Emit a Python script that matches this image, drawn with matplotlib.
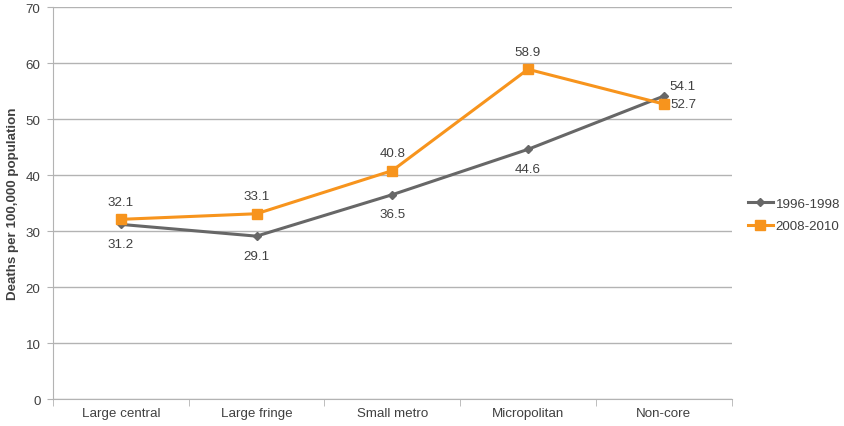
import matplotlib
matplotlib.use("Agg")
import matplotlib.pyplot as plt
import numpy as np

plt.rcParams["font.family"] = ["Liberation Sans", "DejaVu Sans"]

categories = ["Large central", "Large fringe", "Small metro", "Micropolitan", "Non-core"]
deaths_1996 = [31.2, 29.1, 36.5, 44.6, 54.1]
deaths_2008 = [32.1, 33.1, 40.8, 58.9, 52.7]

GRAY = "#676767"
ORANGE = "#F7941D"
GRID = "#B3B3B3"
TEXT = "#404040"
FS = 9.6

fig = plt.figure(figsize=(8.45, 4.27), dpi=100)
ax = fig.add_axes([0.0627, 0.063, 0.803, 0.918])

x = np.arange(len(categories))
ax.plot(x, deaths_1996, color=GRAY, lw=2.2, marker="D", ms=4.5, label="1996-1998", zorder=3)
ax.plot(x, deaths_2008, color=ORANGE, lw=2.2, marker="s", ms=7, label="2008-2010", zorder=4)

# data labels: 1996 below, 2008 above, the last point placed by hand
for i, v in enumerate(deaths_1996):
    if i == len(x) - 1:
        ax.annotate(f"{v}", (i, v), xytext=(4, 7), textcoords="offset points",
                    ha="left", va="center", fontsize=FS, color=TEXT)
    else:
        ax.annotate(f"{v}", (i, v), xytext=(0, -14), textcoords="offset points",
                    ha="center", va="center", fontsize=FS, color=TEXT)
for i, v in enumerate(deaths_2008):
    if i == len(x) - 1:
        ax.annotate(f"{v}", (i, v), xytext=(5, 0), textcoords="offset points",
                    ha="left", va="center", fontsize=FS, color=TEXT)
    else:
        ax.annotate(f"{v}", (i, v), xytext=(0, 12.5), textcoords="offset points",
                    ha="center", va="center", fontsize=FS, color=TEXT)

ax.set_xlim(-0.5, len(categories) - 0.5)
ax.set_ylim(0, 70)
ax.set_yticks(np.arange(0, 71, 10))
ax.set_xticks(x)
ax.set_xticklabels(categories)
ax.set_xticks(np.arange(-0.5, len(categories), 1), minor=True)
ax.tick_params(axis="x", which="major", length=0, labelsize=FS, labelcolor=TEXT, pad=6)
ax.tick_params(axis="x", which="minor", length=5, color=GRID)
ax.tick_params(axis="y", length=4, color=GRID, labelsize=FS, labelcolor=TEXT, pad=5)

ax.grid(axis="y", color=GRID, lw=1)
ax.set_axisbelow(True)
for side in ["top", "right"]:
    ax.spines[side].set_visible(False)
for side in ["left", "bottom"]:
    ax.spines[side].set_color(GRID)

ax.set_ylabel("Deaths per 100,000 population", fontsize=FS, fontweight="bold", color=TEXT, labelpad=5)

ax.legend(loc="center left", bbox_to_anchor=(1.024, 0.47), frameon=False, fontsize=FS,
          borderpad=0, borderaxespad=0, handlelength=1.9, handletextpad=0.2,
          labelspacing=0.75, labelcolor=TEXT)

fig.savefig("out.png", dpi=100)
